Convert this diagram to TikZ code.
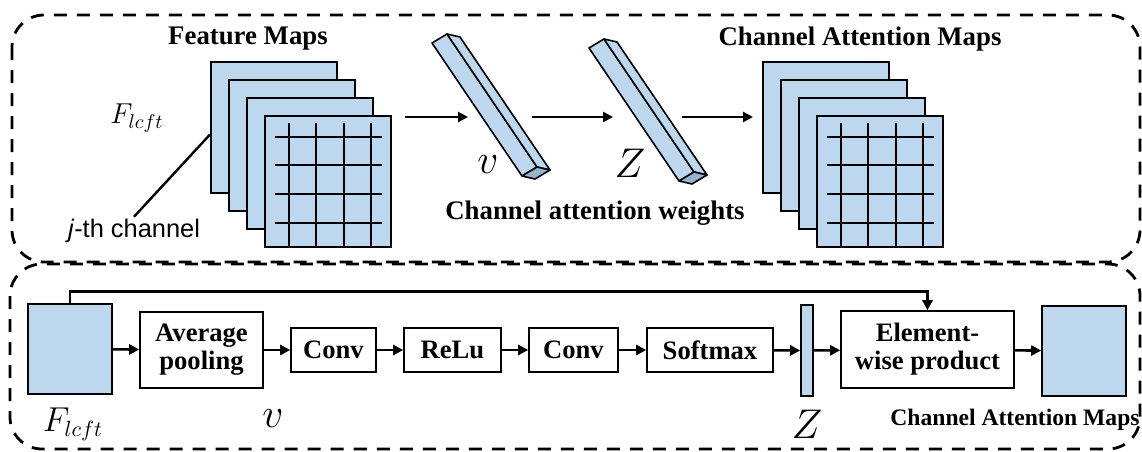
\documentclass[tikz,border=0pt]{standalone}
\usepackage{fontspec}
\setmainfont{Liberation Serif}
\newfontfamily\arialfont{Liberation Sans}
\usetikzlibrary{arrows.meta,calc,positioning}
\definecolor{mapblue}{RGB}{189,215,238}
\definecolor{capblue}{RGB}{150,180,208}
\tikzset{
  frame/.style={line width=1.4pt, dash pattern=on 6.5pt off 5pt, rounded corners=16pt},
  mapsq/.style={draw, line width=1pt, fill=mapblue, minimum width=63pt, minimum height=65.5pt, inner sep=0pt},
  opbox/.style={draw, line width=0.8pt, fill=white, font=\fontsize{13.3}{14}\selectfont\bfseries, align=center, inner sep=0pt},
  title/.style={font=\fontsize{13.4}{15}\selectfont\bfseries},
  beam/.style={draw, line width=0.8pt, fill=mapblue, line join=round},
  flow/.style={->, line width=1.3pt},
  bigmath/.style={font=\fontsize{21}{24}\selectfont, inner sep=0pt},
}

\begin{document}
\begin{tikzpicture}[x=0.5pt, y=-0.5pt, >={Triangle[length=5pt,width=5pt]}]
\useasboundingbox (0,0) rectangle (1142,451);
% the two dashed frames
\draw[frame] (12,15) rectangle (1140,262);
\draw[frame] (10,264) rectangle (1140,449);

% top row: stacks of maps
\foreach \sx/\nm in {211/fm, 763/cam} {
  \foreach \i in {0,...,3}
    \node[mapsq] (\nm\i) at (\sx+63+18*\i, 127.5+18*\i) {};
  \foreach \gx in {78,105,133,160}
    \draw[line width=1.2pt] (\sx+\gx,123) -- (\sx+\gx,247);
  \foreach \gy in {137,165,194,223}
    \draw[line width=1.2pt] (\sx+64,\gy) -- (\sx+171,\gy);
}
\node[title] (fmtitle) at (248,39) {Feature Maps};
\node[title] (camtitle) at (860,39) {Channel Attention Maps};
\node[font=\fontsize{14}{16}\selectfont] (ftop) at (137,118) {$F_{lcft}$};
\node[font=\arialfont\fontsize{12.7}{14}\selectfont, inner sep=1pt] (jch) at (134,231) {\textit{j}-th channel};
\draw[line width=1.2pt] (jch.north) -- ([yshift=-3.5pt]fm0.west);

% attention weight beams
\foreach \bx/\by/\nm in {432/43/vbeam, 589/48/zbeam} {
  \coordinate (\nm) at (\bx,\by);
  \path[beam] (\nm) -- ++(15,-9) -- ++(90,133) -- ++(-15,9) -- cycle;
  \path[beam] ($(\nm)+(15,-9)$) -- ++(13,3) -- ++(90,133) -- ++(-13,-3) -- cycle;
  \path[beam, fill=capblue] ($(\nm)+(90,133)$) -- ++(15,-9) -- ++(13,3) -- ++(-15,9) -- cycle;
}
\node[bigmath] (vtop) at (488,165) {$v$};
\node[bigmath] (ztop) at (630,163) {$Z$};
\node[title] (cawt) at (595,213) {Channel attention weights};

\coordinate (a1s) at (405,117); \coordinate (a1e) at (468,117);
\coordinate (a2s) at (532,117); \coordinate (a2e) at (613,117);
\coordinate (a3s) at (682,117); \coordinate (a3e) at (753,117);
\draw[flow] (a1s) -- (a1e);
\draw[flow] (a2s) -- (a2e);
\draw[flow] (a3s) -- (a3e);

% bottom row: pipeline
\node[draw, line width=0.8pt, fill=mapblue, minimum width=42pt, minimum height=45pt] (fin) at (70,349) {};
\node[opbox, minimum width=61.5pt, minimum height=38pt] (avg) at (201.5,350) {Average\\pooling};
\node[opbox, minimum width=42.5pt, minimum height=22pt] (conv1) at (333.5,350) {Conv};
\node[opbox, minimum width=48.5pt, minimum height=22pt] (relu) at (452.5,350) {ReLu};
\node[opbox, minimum width=44.5pt, minimum height=22pt] (conv2) at (573.5,350) {Conv};
\node[opbox, minimum width=63pt, minimum height=22pt] (soft) at (710,350) {Softmax};
\node[draw, line width=0.8pt, fill=mapblue, minimum width=6pt, minimum height=45.5pt, inner sep=0pt] (zvec) at (807,350.5) {};
\node[opbox, minimum width=86.5pt, minimum height=38.5pt] (prod) at (927.5,349.5) {Element-\\wise product};
\node[draw, line width=0.8pt, fill=mapblue, minimum width=42pt, minimum height=45pt] (fout) at (1084,351) {};

\draw[flow] (fin) -- (avg);
\draw[flow] (avg) -- (conv1);
\draw[flow] (conv1) -- (relu);
\draw[flow] (relu) -- (conv2);
\draw[flow] (conv2) -- (soft);
\draw[flow] (soft) -- (zvec);
\draw[flow] (zvec) -- (prod);
\draw[flow] (prod) -- (fout);
\draw[flow] (fin.north) -- ++(0,-12) -| (prod.north);

\node[font=\fontsize{16}{18}\selectfont] (fbot) at (73,424) {$F_{lcft}$};
\node[bigmath] (vbot) at (273,419) {$v$};
\node[bigmath] (zbot) at (807,424) {$Z$};
\node[font=\fontsize{11.8}{13}\selectfont\bfseries] (cambot) at (1015,420) {Channel Attention Maps};
\end{tikzpicture}
\end{document}
